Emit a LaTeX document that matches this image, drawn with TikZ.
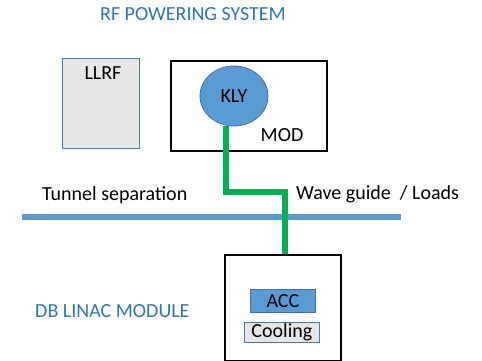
\documentclass[tikz,border=0pt]{standalone}
\usepackage{fontspec}
\setmainfont{Carlito}
\usetikzlibrary{shapes.geometric}
\definecolor{tblue}{HTML}{2E75B6}
\definecolor{accblue}{HTML}{5B9BD5}
\definecolor{accedge}{HTML}{41719C}
\definecolor{lgray}{HTML}{E6E6E6}
\definecolor{wgreen}{HTML}{00B050}
\begin{document}
\begin{tikzpicture}[x=1pt,y=-1pt,
  lbl/.style={font=\fontsize{20}{24}\selectfont, inner sep=0pt},
  bluelbl/.style={lbl, text=tblue},
  graybox/.style={draw=accblue!80!black, fill=lgray, line width=0.8pt},
  blackbox/.style={draw=black, line width=2pt},
  bluefill/.style={draw=accedge, fill=accblue, line width=0.8pt}]
\useasboundingbox (0,0) rectangle (482,361);
\node[bluelbl] (title) at (193,14) {RF POWERING SYSTEM};
% LLRF
\draw[graybox] (62,58) rectangle (139,148);
\node[lbl] (llrf) at (103,73) {LLRF};
% MOD
\node[blackbox, minimum width=156pt, minimum height=90pt, anchor=north west] (mod) at (170,60) {};
\node[lbl] (modl) at (282,135) {MOD};
\node[bluefill, ellipse, minimum width=68pt, minimum height=60pt, inner sep=0pt] (kly) at (234,96) {};
\node[lbl] at (kly) {KLY};
% tunnel line
\coordinate (tl) at (22,217);
\coordinate (tr) at (401,217);
\draw[accblue, line width=5.5pt] (tl) -- (tr);
\node[lbl, anchor=west] (tunnel) at (42,195) {Tunnel separation};
\node[lbl, anchor=west] (wg) at (296,194) {Wave guide~ / Loads};
% DB linac box
\node[blackbox, minimum width=116pt, minimum height=106pt, anchor=north west] (db) at (224,254) {};
\node[bluelbl, anchor=west] (dbl) at (35,311) {DB LINAC MODULE};
\node[bluefill, minimum width=65pt, minimum height=23pt, anchor=north west, inner sep=0pt] (acc) at (250,289) {};
\node[lbl] at (acc) {ACC};
\node[graybox, minimum width=75pt, minimum height=20pt, anchor=north west, inner sep=0pt] (cool) at (244,322) {};
\node[lbl] at (cool) {Cooling};
% waveguide
\coordinate (w1) at (226,192);
\coordinate (w2) at (285,192);
\draw[wgreen, line width=6.5pt] (kly.south -| w1) -- (w1) -- (w2) -- (w2 |- db.north);
\end{tikzpicture}
\end{document}
